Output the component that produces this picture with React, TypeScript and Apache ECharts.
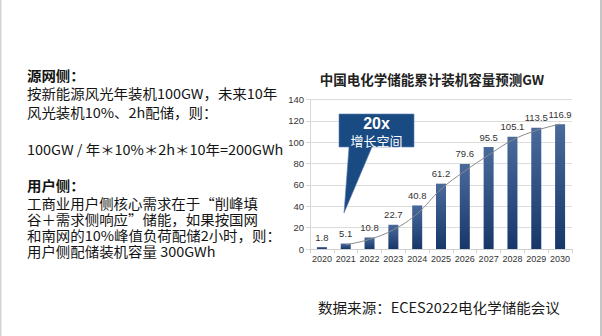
import React, { useEffect, useRef } from "react";
import * as echarts from "echarts";

const years = ["2020", "2021", "2022", "2023", "2024", "2025", "2026", "2027", "2028", "2029", "2030"];
const capacity = [1.8, 5.1, 10.8, 22.7, 40.8, 61.2, 79.6, 95.5, 105.1, 113.5, 116.9];
const trend = [null, 4, 9, 18, 33, 56, 73, 88, 102, 111, 117];
const yTicks = { min: 0, max: 140, interval: 20 };

const chartTitle = "中国电化学储能累计装机容量预测GW";
const calloutLines = ["20x", "增长空间"];
const sourceText = "数据来源：ECES2022电化学储能会议";
const leftLines: { text: string; y: number; bold?: boolean }[] = [
  { text: "源网侧：", y: 75, bold: true },
  { text: "按新能源风光年装机100GW，未来10年", y: 93.5 },
  { text: "风光装机10%、2h配储，则：", y: 112.4 },
  { text: "100GW / 年＊10%＊2h＊10年=200GWh", y: 149 },
  { text: "用户侧：", y: 185, bold: true },
  { text: "工商业用户侧核心需求在于“削峰填", y: 203.7 },
  { text: "谷＋需求侧响应”储能，如果按国网", y: 219.7 },
  { text: "和南网的10%峰值负荷配储2小时，则：", y: 235.3 },
  { text: "用户侧配储装机容量 300GWh", y: 251.7 },
];

const CJK = '"Noto Sans CJK SC", "Noto Sans", sans-serif';
const LAT = '"Liberation Sans", Arial, sans-serif';

export default function App() {
  const ref = useRef<HTMLDivElement>(null);
  useEffect(() => {
    if (!ref.current) return;
    const chart = echarts.init(ref.current, null, { renderer: "svg" });
    const graphics: any[] = [
      { type: "rect", shape: { x: 0, y: 0, width: 1.5, height: 336 }, style: { fill: "#d4d4d4" } },
      { type: "rect", shape: { x: 600, y: 0, width: 2, height: 336 }, style: { fill: "#c6c6c6" } },
      ...leftLines.map((l) => ({
        type: "text",
        x: 27,
        y: l.y,
        scaleX: 1.07,
        style: {
          text: l.text,
          font: `${l.bold ? "bold " : ""}13.5px ${CJK}`,
          fill: "#141414",
          textVerticalAlign: "middle",
        },
      })),
      {
        type: "text",
        x: 318,
        y: 307,
        scaleX: 1.04,
        style: { text: sourceText, font: `14px ${CJK}`, fill: "#1a1a1a", textVerticalAlign: "middle" },
      },
      {
        type: "text",
        x: 432,
        y: 79,
        style: { text: chartTitle, font: `bold 13.5px ${CJK}`, fill: "#222", textAlign: "center", textVerticalAlign: "middle" },
      },
      {
        type: "polygon",
        z: 100,
        shape: {
          points: [
            [339, 114],
            [414, 114],
            [414, 147],
            [372, 147],
            [344, 213],
            [349, 147],
            [339, 147],
          ],
        },
        style: { fill: "#1a4a82", stroke: "#5a82b0", lineWidth: 0.6 },
      },
      {
        type: "text",
        z: 101,
        x: 376.5,
        y: 123.5,
        style: { text: calloutLines[0], font: `bold 16px ${LAT}`, fill: "#fff", textAlign: "center", textVerticalAlign: "middle" },
      },
      {
        type: "text",
        z: 101,
        x: 376.5,
        y: 140.5,
        style: { text: calloutLines[1], font: `13px ${CJK}`, fill: "#fff", textAlign: "center", textVerticalAlign: "middle" },
      },
    ];
    chart.setOption({
      animation: false,
      grid: { left: 310, right: 30, top: 99.5, bottom: 87 },
      xAxis: {
        type: "category",
        data: years,
        axisLine: { show: true, lineStyle: { color: "#d0d0d0" } },
        axisTick: { show: true, length: 4, lineStyle: { color: "#d0d0d0" } },
        axisLabel: { color: "#333", fontSize: 9, fontFamily: LAT, margin: 5, interval: 0 },
      },
      yAxis: {
        type: "value",
        min: yTicks.min,
        max: yTicks.max,
        interval: yTicks.interval,
        axisLine: { show: true, lineStyle: { color: "#d9d9d9" } },
        axisTick: { show: true, length: 4, lineStyle: { color: "#d9d9d9" } },
        axisLabel: { color: "#333", fontSize: 9.5, fontFamily: LAT, margin: 6 },
        splitLine: { lineStyle: { color: "#dcdcdc" } },
      },
      series: [
        {
          type: "bar",
          data: capacity,
          barWidth: 10,
          itemStyle: {
            color: new echarts.graphic.LinearGradient(0, 0, 0, 1, [
              { offset: 0, color: "#4a6a9c" },
              { offset: 1, color: "#17366a" },
            ]),
          },
          label: { show: true, position: "top", distance: 5, color: "#333", fontSize: 9.5, fontFamily: LAT },
        },
        {
          type: "line",
          data: trend,
          smooth: 0.4,
          symbol: "none",
          connectNulls: false,
          lineStyle: { color: "#8a8a8a", width: 1 },
          z: 5,
        },
      ],
      graphic: graphics,
    });
    return () => chart.dispose();
  }, []);
  return <div ref={ref} style={{ position: "fixed", left: 0, top: 0, width: 602, height: 336, background: "#fff" }} />;
}
